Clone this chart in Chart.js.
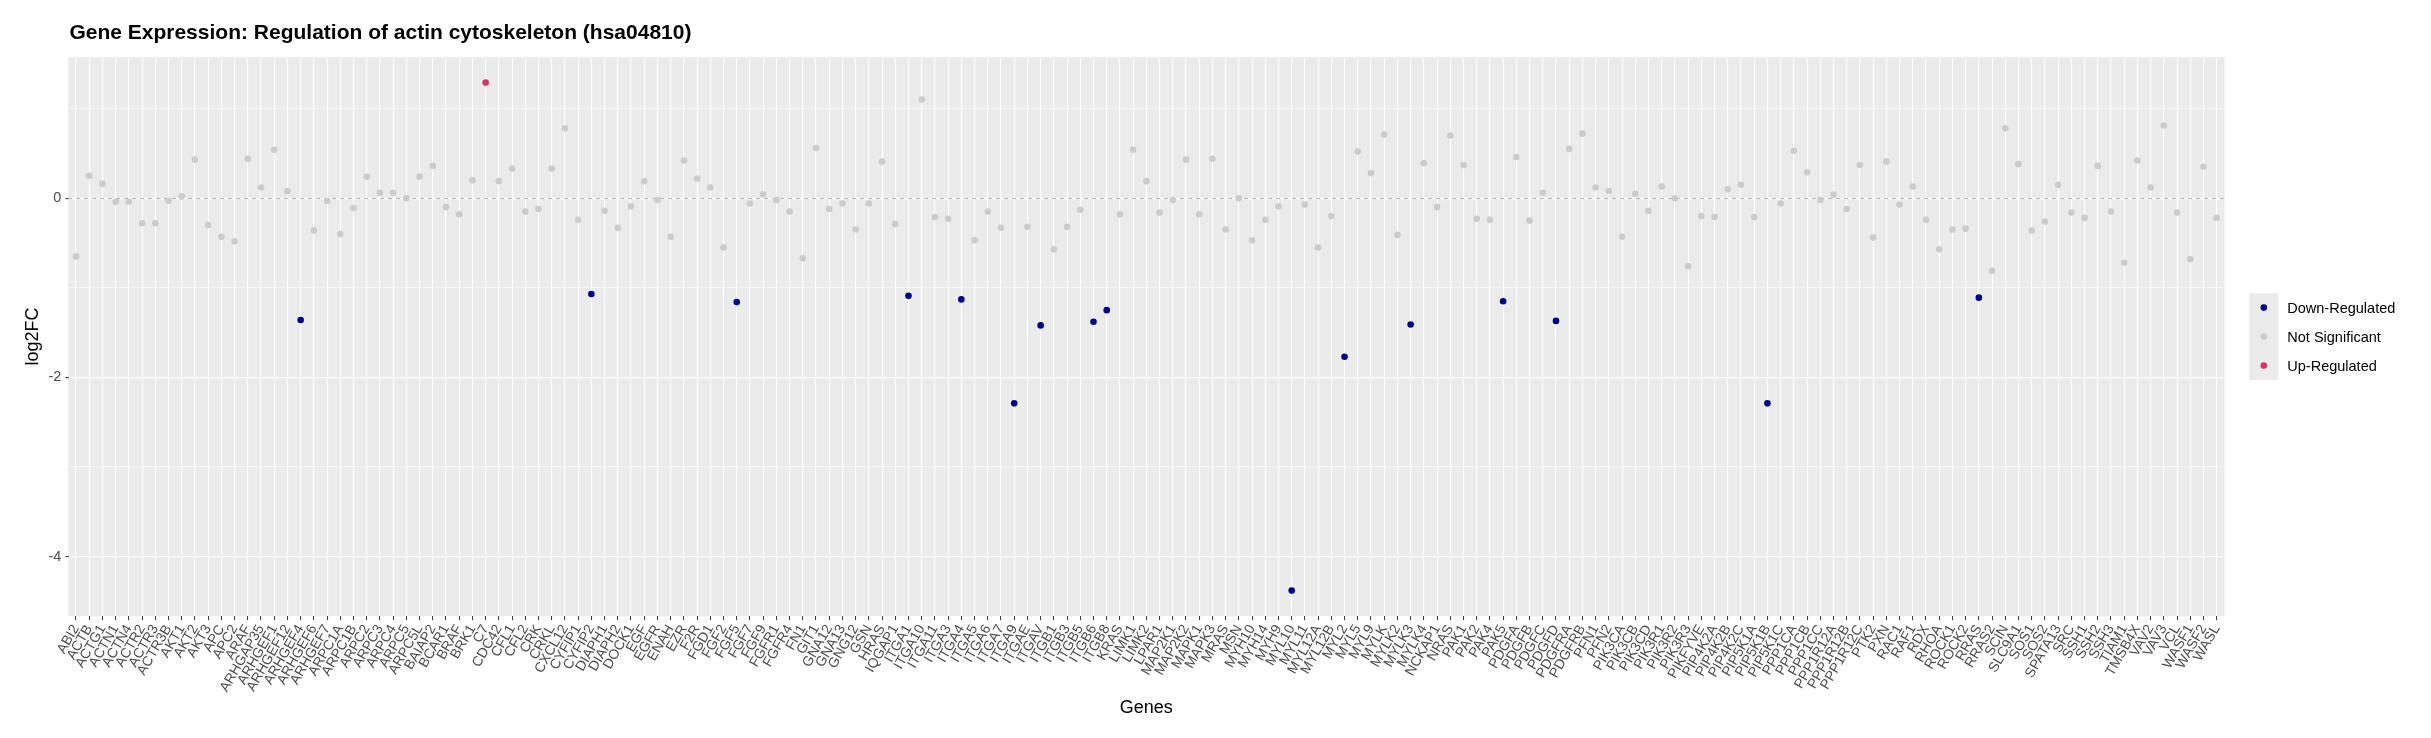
<!DOCTYPE html>
<html>
<head>
<meta charset="utf-8">
<script src="https://cdn.jsdelivr.net/npm/chart.js@4.4.1/dist/chart.umd.min.js"></script>
<style>
html,body{margin:0;padding:0;background:#ffffff;}
#wrap{width:2431px;height:738px;position:relative;}
canvas{display:block;}
</style>
</head>
<body>
<div id="wrap"><canvas id="c" width="2431" height="738"></canvas></div>
<script>
const genes = [
 'ABI2','ACTB','ACTG1','ACTN1','ACTN4','ACTR2','ACTR3','ACTR3B','AKT1','AKT2',
 'AKT3','APC','APC2','ARAF','ARHGAP35','ARHGEF1','ARHGEF12','ARHGEF4','ARHGEF6','ARHGEF7',
 'ARPC1A','ARPC1B','ARPC2','ARPC3','ARPC4','ARPC5','ARPC5L','BAIAP2','BCAR1','BRAF',
 'BRK1','C7','CDC42','CFL1','CFL2','CRK','CRKL','CXCL12','CYFIP1','CYFIP2',
 'DIAPH1','DIAPH2','DOCK1','EGF','EGFR','ENAH','EZR','F2R','FGD1','FGF2',
 'FGF5','FGF7','FGF9','FGFR1','FGFR4','FN1','GIT1','GNA12','GNA13','GNG12',
 'GSN','HRAS','IQGAP1','ITGA1','ITGA10','ITGA11','ITGA3','ITGA4','ITGA5','ITGA6',
 'ITGA7','ITGA9','ITGAE','ITGAV','ITGB1','ITGB3','ITGB5','ITGB6','ITGB8','KRAS',
 'LIMK1','LIMK2','LPAR1','MAP2K1','MAP2K2','MAPK1','MAPK3','MRAS','MSN','MYH10',
 'MYH14','MYH9','MYL10','MYL11','MYL12A','MYL12B','MYL2','MYL5','MYL9','MYLK',
 'MYLK2','MYLK3','MYLK4','NCKAP1','NRAS','PAK1','PAK2','PAK4','PAK5','PDGFA',
 'PDGFB','PDGFC','PDGFD','PDGFRA','PDGFRB','PFN1','PFN2','PIK3CA','PIK3CB','PIK3CD',
 'PIK3R1','PIK3R2','PIK3R3','PIKFYVE','PIP4K2A','PIP4K2B','PIP4K2C','PIP5K1A','PIP5K1B','PIP5K1C',
 'PPP1CA','PPP1CB','PPP1CC','PPP1R12A','PPP1R12B','PPP1R12C','PTK2','PXN','RAC1','RAF1',
 'RDX','RHOA','ROCK1','ROCK2','RRAS','RRAS2','SCIN','SLC9A1','SOS1','SOS2',
 'SPATA13','SRC','SSH1','SSH2','SSH3','TIAM1','TMSB4X','VAV2','VAV3','VCL',
 'WASF1','WASF2','WASL'
];
const log2FC = [
 -0.65, 0.25, 0.16,-0.04,-0.04,-0.28,-0.28,-0.03, 0.02, 0.43,
 -0.30,-0.43,-0.48, 0.44, 0.12, 0.54, 0.08,-1.36,-0.36,-0.03,
 -0.40,-0.11, 0.24, 0.06, 0.06, 0.00, 0.24, 0.36,-0.10,-0.18,
  0.20, 1.29, 0.19, 0.33,-0.15,-0.12, 0.33, 0.78,-0.24,-1.07,
 -0.14,-0.33,-0.09, 0.19,-0.02,-0.43, 0.42, 0.22, 0.12,-0.55,
 -1.16,-0.06, 0.04,-0.02,-0.15,-0.67, 0.56,-0.12,-0.06,-0.35,
 -0.06, 0.41,-0.29,-1.09, 1.10,-0.21,-0.23,-1.13,-0.47,-0.15,
 -0.33,-2.29,-0.32,-1.42,-0.57,-0.32,-0.13,-1.38,-1.25,-0.18,
  0.54, 0.19,-0.16,-0.02, 0.43,-0.18, 0.44,-0.35, 0.00,-0.47,
 -0.24,-0.09,-4.38,-0.07,-0.55,-0.20,-1.77, 0.52, 0.28, 0.71,
 -0.41,-1.41, 0.39,-0.10, 0.70, 0.37,-0.23,-0.24,-1.15, 0.46,
 -0.25, 0.06,-1.37, 0.55, 0.72, 0.12, 0.08,-0.43, 0.05,-0.14,
  0.13, 0.00,-0.76,-0.20,-0.21, 0.10, 0.15,-0.21,-2.29,-0.06,
  0.53, 0.29,-0.02, 0.04,-0.12, 0.37,-0.44, 0.41,-0.07, 0.13,
 -0.24,-0.57,-0.35,-0.34,-1.11,-0.81, 0.78, 0.38,-0.36,-0.26,
  0.15,-0.16,-0.22, 0.36,-0.15,-0.72, 0.42, 0.12, 0.81,-0.16,
 -0.68, 0.35,-0.22
];
const downGenes = ['ARHGEF4','CYFIP2','FGF5','ITGA1','ITGA4','ITGA9','ITGAV','ITGB6','ITGB8',
                   'MYL10','MYL2','MYLK3','PAK5','PDGFD','PIP5K1B','RRAS'];
const upGenes = ['C7'];
const seriesNames = ['Down-Regulated','Not Significant','Up-Regulated'];
const seriesColors = ['#00008B','#CCCCCC','#D6336C'];
const yTickLabels = [-4, -2, 0];
const titleText = 'Gene Expression: Regulation of actin cytoskeleton (hsa04810)';
const xTitle = 'Genes';
const yTitle = 'log2FC';

const FONT = "'Liberation Sans', Arial, sans-serif";
Chart.defaults.font.family = FONT;

function statusOf(g){
  if (downGenes.includes(g)) return 0;
  if (upGenes.includes(g)) return 2;
  return 1;
}

const datasets = seriesNames.map((name, k) => ({
  label: name,
  data: genes.map((g, i) => statusOf(g) === k ? log2FC[i] : null),
  showLine: false,
  pointRadius: 3.3,
  pointHoverRadius: 3.3,
  pointBorderWidth: 0,
  pointBackgroundColor: seriesColors[k],
  borderColor: seriesColors[k],
  backgroundColor: seriesColors[k]
}));

const dMin = Math.min(...log2FC), dMax = Math.max(...log2FC);
const expand = (dMax - dMin) * 0.05;
const yMin = dMin - expand, yMax = dMax + expand;

const bgPlugin = {
  id: 'ggBackground',
  beforeDraw(chart){
    const {ctx, chartArea: a} = chart;
    ctx.save();
    ctx.fillStyle = '#FFFFFF';
    ctx.fillRect(0, 0, chart.width, chart.height);
    ctx.fillStyle = '#EBEBEB';
    ctx.fillRect(a.left - 1.3, a.top, a.right - a.left + 2.6, a.bottom - a.top);
    ctx.restore();
  }
};

const zeroLinePlugin = {
  id: 'zeroLine',
  beforeDatasetsDraw(chart){
    const {ctx, chartArea: a, scales} = chart;
    const y = Math.round(scales.y.getPixelForValue(0)) + 0.5;
    ctx.save();
    ctx.strokeStyle = '#B8B8B8';
    ctx.lineWidth = 1.1;
    ctx.setLineDash([4, 4]);
    ctx.beginPath();
    ctx.moveTo(a.left - 1.3, y);
    ctx.lineTo(a.right + 1.3, y);
    ctx.stroke();
    ctx.restore();
  }
};

const legendPlugin = {
  id: 'ggLegend',
  afterDraw(chart){
    const {ctx, chartArea: a} = chart;
    const ds = chart.data.datasets;
    const keyW = 29, keyH = 29;
    const x0 = a.right + 26;
    const top = (a.top + a.bottom) / 2 - ds.length * keyH / 2;
    ctx.save();
    ctx.fillStyle = '#EBEBEB';
    ctx.fillRect(x0, top, keyW, keyH * ds.length);
    ds.forEach((d, i) => {
      const cy = top + keyH * (i + 0.5);
      ctx.beginPath();
      ctx.fillStyle = d.pointBackgroundColor;
      ctx.arc(x0 + keyW / 2, cy, 3.3, 0, Math.PI * 2);
      ctx.fill();
      ctx.fillStyle = '#000000';
      ctx.font = '14.5px ' + FONT;
      ctx.textBaseline = 'middle';
      ctx.textAlign = 'left';
      ctx.fillText(d.label, x0 + keyW + 9, cy + 1);
    });
    ctx.restore();
  }
};

new Chart(document.getElementById('c'), {
  type: 'line',
  data: { labels: genes, datasets },
  plugins: [bgPlugin, zeroLinePlugin, legendPlugin],
  options: {
    responsive: false,
    devicePixelRatio: 1,
    animation: false,
    events: [],
    layout: { padding: { left: 0, right: 207.7, top: 0, bottom: 0 } },
    plugins: {
      legend: { display: false },
      tooltip: { enabled: false },
      title: {
        display: true,
        text: titleText,
        align: 'start',
        fullSize: false,
        color: '#000000',
        font: { family: FONT, size: 21, weight: 'bold' },
        padding: { top: 21, bottom: 11 }
      }
    },
    scales: {
      x: {
        type: 'category',
        offset: true,
        border: { display: false },
        grid: {
          offset: false,
          color: '#FFFFFF',
          lineWidth: 1.1,
          drawTicks: true,
          tickLength: 4,
          tickColor: '#333333',
          tickWidth: 1
        },
        ticks: {
          autoSkip: false,
          maxRotation: 60,
          minRotation: 60,
          padding: 2,
          color: '#4D4D4D',
          font: { family: FONT, size: 14 }
        },
        title: {
          display: true,
          text: xTitle,
          color: '#000000',
          font: { family: FONT, size: 18 },
          padding: { top: 0, bottom: 19 }
        },
        afterFit(s){ s.height = 122; }
      },
      y: {
        type: 'linear',
        min: yMin,
        max: yMax,
        border: { display: false },
        grid: {
          color: '#FFFFFF',
          lineWidth: ctx => (ctx.tick && yTickLabels.includes(ctx.tick.value)) ? 1.3 : 0.6,
          drawTicks: true,
          tickLength: 4,
          tickColor: ctx => (ctx.tick && yTickLabels.includes(ctx.tick.value)) ? '#333333' : 'rgba(0,0,0,0)',
          tickWidth: 1
        },
        ticks: {
          stepSize: 1,
          includeBounds: false,
          padding: 4,
          color: '#4D4D4D',
          font: { family: FONT, size: 14.5 },
          callback: v => yTickLabels.includes(v) ? String(v) : ''
        },
        title: {
          display: true,
          text: yTitle,
          color: '#000000',
          font: { family: FONT, size: 18 },
          padding: { top: 22, bottom: 0 }
        },
        afterFit(s){ s.width = 69.4; }
      }
    }
  }
});
</script>
</body>
</html>
